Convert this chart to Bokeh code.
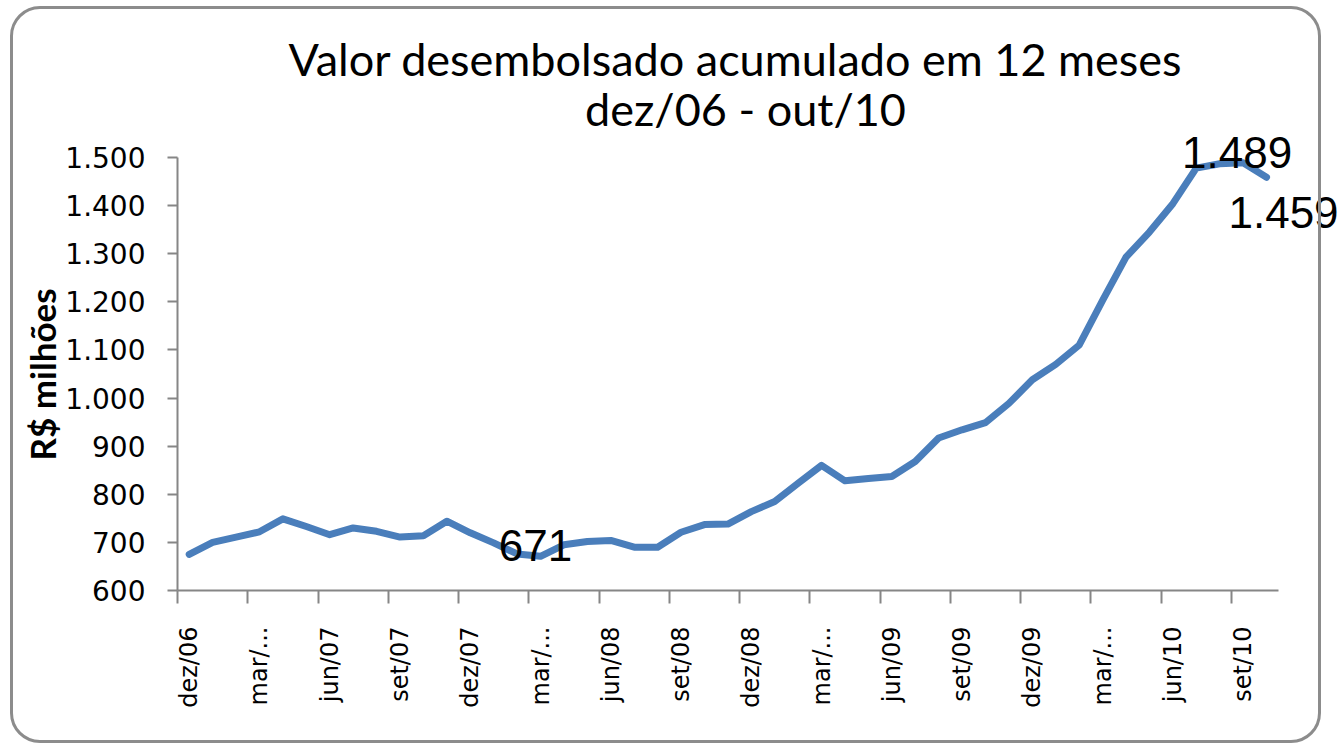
import math
from bokeh.plotting import figure
from bokeh.models import FixedTicker, Label, Range1d, InlineStyleSheet, Title
from bokeh.embed import file_html
from bokeh.resources import INLINE

# ---- data ----
months = ["dez/06",
          "jan/07", "fev/07", "mar/07", "abr/07", "mai/07", "jun/07", "jul/07", "ago/07", "set/07", "out/07", "nov/07", "dez/07",
          "jan/08", "fev/08", "mar/08", "abr/08", "mai/08", "jun/08", "jul/08", "ago/08", "set/08", "out/08", "nov/08", "dez/08",
          "jan/09", "fev/09", "mar/09", "abr/09", "mai/09", "jun/09", "jul/09", "ago/09", "set/09", "out/09", "nov/09", "dez/09",
          "jan/10", "fev/10", "mar/10", "abr/10", "mai/10", "jun/10", "jul/10", "ago/10", "set/10", "out/10"]
values = [675,
          700, 711, 722, 749, 733, 716, 730, 723, 711, 714, 744, 720,
          699, 676, 671, 695, 702, 704, 690, 690, 721, 737, 738, 764,
          785, 823, 860, 828, 833, 837, 868, 917, 934, 949, 989, 1038,
          1070, 1110, 1203, 1293, 1345, 1404, 1478, 1487, 1489, 1459]
tick_labels = ["dez/06", "mar/...", "jun/07", "set/07", "dez/07", "mar/...", "jun/08", "set/08",
               "dez/08", "mar/...", "jun/09", "set/09", "dez/09", "mar/...", "jun/10", "set/10"]
y_ticks = [600, 700, 800, 900, 1000, 1100, 1200, 1300, 1400, 1500]
label_idx = [15, 45, 46]
label_text = ["671", "1.489", "1.459"]
title_lines = ["Valor desembolsado acumulado em 12 meses", "dez/06 - out/10"]
y_title = "R$ milhões"

n = len(values)
x = list(range(n))

# ---- layout (pixels) ----
LEFT = 177          # y-axis position
BOTTOM = 590        # x-axis position
FRAME_W = 1339 - LEFT
MONTH_W = 23.42     # px per month
Y_SCALE = 433 / 900 # px per R$ milhão
Y_MIN, Y_MAX = y_ticks[0], y_ticks[-1]

def px_x(px):
    return -0.5 + (px - LEFT) / MONTH_W

def px_y(py):
    return Y_MIN + (BOTTOM - py) / Y_SCALE

border_css = InlineStyleSheet(css="""
:host { position: relative; }
:host::after {
  content: "";
  position: absolute;
  left: 10px; top: 6px;
  width: 1311px; height: 737px;
  box-sizing: border-box;
  border: 3px solid #8c8c8c;
  border-radius: 30px;
  pointer-events: none;
}
""")

p = figure(frame_width=FRAME_W, frame_height=BOTTOM,
           min_border_left=LEFT, min_border_right=0, min_border_top=0, min_border_bottom=744 - BOTTOM,
           x_range=Range1d(px_x(LEFT), px_x(1339)), y_range=Range1d(Y_MIN, px_y(0)),
           output_backend="svg", toolbar_location=None, stylesheets=[border_css])
p.outline_line_color = None
p.xgrid.grid_line_color = None
p.ygrid.grid_line_color = None
p.background_fill_color = "white"
p.border_fill_color = "white"

p.line(x, values, line_color="#4A7EBB", line_width=7, line_join="round", line_cap="round")

# title (two centred lines)
title_pos = [(735, 58), (745, 108)]
for k, t in enumerate(title_lines):
    p.add_layout(Label(x=px_x(title_pos[k][0]), y=px_y(title_pos[k][1]), text=t,
                       text_align="center", text_baseline="alphabetic",
                       text_font="Lato", text_font_size="45px", text_color="black"))

# x axis
major = list(range(0, n, 3))
xa = p.xaxis[0]
xa.bounds = (-0.5, n - 0.5)
xa.ticker = FixedTicker(ticks=major, minor_ticks=[m - 0.5 for m in major])
xa.major_label_overrides = {m: tick_labels[k] for k, m in enumerate(major)}
xa.major_label_orientation = math.pi / 2
xa.major_tick_line_color = None
xa.major_tick_out = 0
xa.major_tick_in = 0
xa.minor_tick_line_color = "#868686"
xa.minor_tick_line_width = 2
xa.minor_tick_out = 13
xa.minor_tick_in = 0
xa.major_label_standoff = 23
xa.major_label_text_font = "DejaVu Sans"
xa.major_label_text_font_size = "24px"
xa.major_label_text_color = "black"
xa.axis_line_color = "#868686"
xa.axis_line_width = 2

# y axis
ya = p.yaxis[0]
ya.bounds = (Y_MIN, Y_MAX)
ya.ticker = FixedTicker(ticks=y_ticks, minor_ticks=[])
ya.major_label_overrides = {v: f"{v:,}".replace(",", ".") for v in y_ticks}
ya.major_tick_line_color = "#868686"
ya.major_tick_line_width = 2
ya.major_tick_out = 10
ya.major_tick_in = 0
ya.major_label_standoff = 22
ya.major_label_text_font = "DejaVu Sans"
ya.major_label_text_font_size = "28px"
ya.major_label_text_color = "black"
ya.axis_line_color = "#868686"
ya.axis_line_width = 2

# y-axis title, centred on the 600-1500 span
p.add_layout(Title(text=y_title, align="left", offset=130, standoff=0,
                   text_font="Lato", text_font_size="35px", text_font_style="bold",
                   text_color="black"), "left")

# data labels
offsets = [(-5, 11), (-6, 10), (17, -35)]
for k, idx in enumerate(label_idx):
    p.add_layout(Label(x=idx, y=values[idx], text=label_text[k],
                       x_offset=offsets[k][0], y_offset=offsets[k][1],
                       text_align="center", text_baseline="middle",
                       text_font="Liberation Sans", text_font_size="44px", text_color="black"))

open("out.html", "w").write(file_html(p, INLINE))
